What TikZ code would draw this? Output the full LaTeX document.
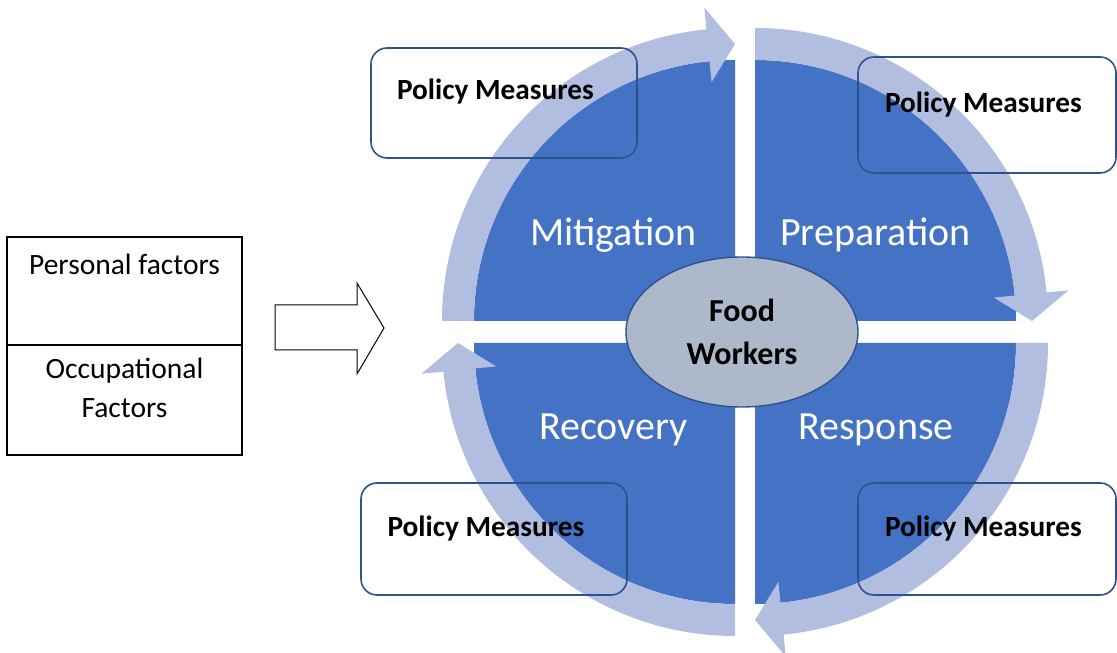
\documentclass[tikz,border=0pt]{standalone}
\usepackage{fontspec}
\setmainfont{Carlito}
\usetikzlibrary{shapes.geometric}

\definecolor{phaseblue}{HTML}{4472C4}
\definecolor{ringblue}{HTML}{B1BEE0}
\definecolor{edgeblue}{HTML}{2F528F}
\definecolor{coregray}{HTML}{ADB9CA}

\begin{document}
\begin{tikzpicture}[x=1pt,y=1pt,
  phase/.style={text=white,font=\fontsize{40}{48}\selectfont,anchor=base},
  policy/.style={font=\bfseries\fontsize{29.3}{34}\selectfont,anchor=base},
  policybox/.style={draw=edgeblue,line width=1.6pt,rounded corners=16pt},
  factor/.style={font=\fontsize{29.5}{39}\selectfont,align=center}]
\useasboundingbox (0,0) rectangle (1117,653);
\draw[line width=1.2pt] (7,416) rectangle (242,198);
\draw[line width=1.2pt] (7,308) -- (242,308);
\node[factor,anchor=base] (personal) at (124.5,378) {Personal factors};
\node[factor] (occupational) at (124.5,265) {Occupational\\Factors};
\draw[line width=1pt,line join=miter] (275,348) -- (357,348) -- (357,370) -- (384,325)
  -- (357,279) -- (357,303) -- (275,303) -- cycle;
\foreach \cx/\cy/\s in {735/332/180, 755/332/90, 755/310/0, 735/310/270} {
  \begin{scope}[shift={(\cx,\cy)}]
  \fill[phaseblue] (0,0) -- (\s:261) arc[start angle=\s, end angle=\s-90, radius=261pt] -- cycle;
  \fill[ringblue] (\s:261) arc[start angle=\s, end angle=\s-84.4, radius=261pt]
    -- ({\s-84.4}:240) -- ({\s-90}:277) -- ({\s-84.4}:315) -- ({\s-84.4}:293)
    arc[start angle=\s-84.4, end angle=\s, radius=293pt] -- cycle;
  \end{scope}
}
\node[ellipse,draw=edgeblue,line width=1.4pt,fill=coregray,minimum width=232pt,
  minimum height=150pt,inner sep=0pt,align=center,
  font=\bfseries\fontsize{32}{43}\selectfont] (workers) at (742,321) {Food\\Workers};
\node[phase] (mitigation) at (613.5,407) {Mitigation};
\node[phase] (preparation) at (875.5,407) {Preparation};
\node[phase] (recovery) at (613.5,213) {Recovery};
\node[phase] (response) at (876,213) {Response};
\draw[policybox] (371,605) rectangle (637,495);
\draw[policybox] (858,596) rectangle (1116,480);
\draw[policybox] (361,170) rectangle (627,58);
\draw[policybox] (858,170) rectangle (1116,58);
\node[policy] (mitpolicy) at (495.5,553) {Policy Measures};
\node[policy] (preppolicy) at (983.5,540) {Policy Measures};
\node[policy] (recpolicy) at (486,116) {Policy Measures};
\node[policy] (resppolicy) at (983.5,116) {Policy Measures};
\end{tikzpicture}
\end{document}
